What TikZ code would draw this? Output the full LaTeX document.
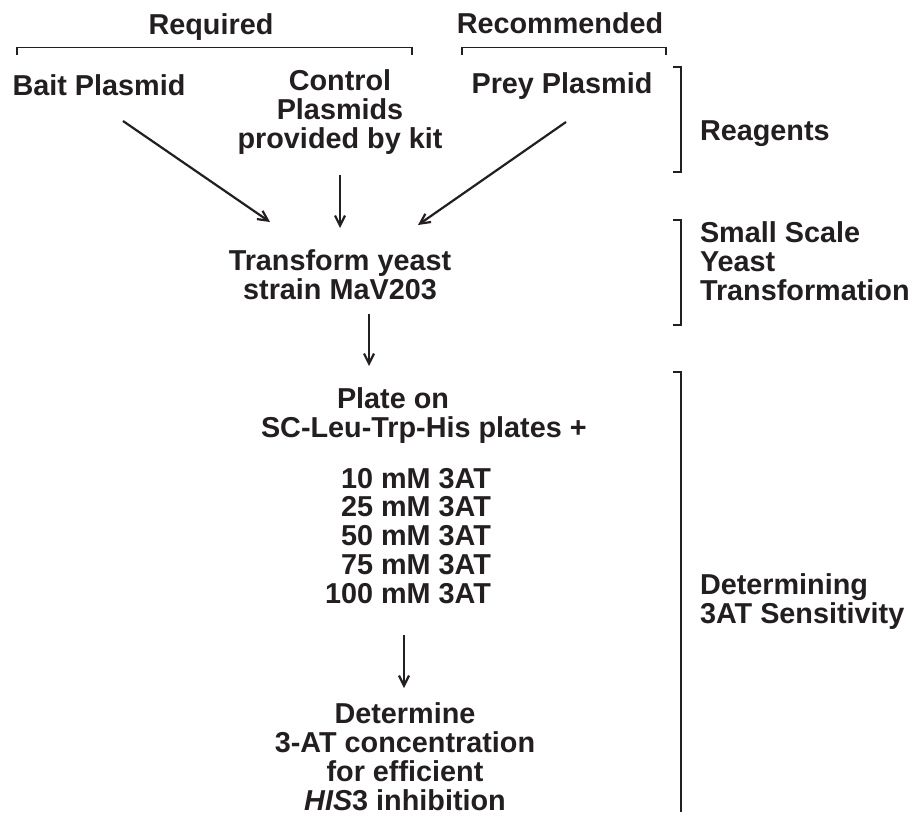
\documentclass[tikz,border=0pt]{standalone}
\usepackage{fontspec}
\setmainfont{Liberation Sans}
\usetikzlibrary{arrows.meta}
\definecolor{ink}{RGB}{35,31,32}
\begin{document}
\begin{tikzpicture}[x=1pt, y=-1pt,
	txt/.style={font=\fontsize{28.8}{28.7}\selectfont\bfseries, text=ink, inner sep=0pt, outer sep=0pt},
	bracket/.style={draw=ink, line width=1.8pt},
	arrow/.style={draw=ink, line width=2.2pt, -{Straight Barb[length=10pt, width=10pt]}}]
	\useasboundingbox (0,0) rectangle (912,817);
	% headers and brackets on top
	\node[txt, anchor=base] (req) at (211,34) {Required};
	\node[txt, anchor=base] (rec) at (560,33) {Recommended};
	\draw[bracket] (17,55)--(17,47.5)--(412,47.5)--(412,55);
	\draw[bracket] (462,55)--(462,47.5)--(666,47.5)--(666,55);
	% plasmids (multi-line nodes sit on their last baseline)
	\node[txt, anchor=base] (bait) at (99,95) {Bait Plasmid};
	\node[txt, anchor=base, align=center] (ctrl) at (340,148) {Control\\Plasmids\\provided by kit};
	\node[txt, anchor=base] (prey) at (562,93) {Prey Plasmid};
	% steps
	\node[txt, anchor=base, align=center] (yeast) at (340,299) {Transform yeast\\strain MaV203};
	\node[txt, anchor=base west, align=left] (plate) at (261,437) {\hspace*{76pt}Plate on\\SC-Leu-Trp-His plates +};
	\node[txt, anchor=base east, align=right] (conc) at (491,603) {10 mM 3AT\\25 mM 3AT\\50 mM 3AT\\75 mM 3AT\\100 mM 3AT};
	\node[txt, anchor=base, align=center] (det) at (405,810) {Determine\\3-AT concentration\\for efficient\\\textit{HIS}3 inhibition};
	% stages on the right
	\node[txt, anchor=base west] (reag) at (700,140) {Reagents};
	\node[txt, anchor=base west, align=left] (small) at (700,300) {Small Scale\\Yeast\\Transformation};
	\node[txt, anchor=base west, align=left] (sens) at (700,623) {Determining\\3AT Sensitivity};
	\draw[bracket] (673,67)--(681,67)--(681,172)--(673,172);
	\draw[bracket] (673,220)--(681,220)--(681,325)--(673,325);
	\draw[bracket] (673,372)--(681,372)--(681,812);
	% arrows
	\coordinate (bait-out) at (123,121);
	\coordinate (prey-out) at (566,122);
	\coordinate (ctrl-out) at (340,175);
	\coordinate (yeast-l) at (270,222);
	\coordinate (yeast-r) at (418,225);
	\coordinate (yeast-t) at (340,228);
	\coordinate (yeast-out) at (369,314);
	\coordinate (plate-in) at (369,366);
	\coordinate (conc-out) at (404,635);
	\coordinate (det-in) at (404,688);
	\draw[arrow] (bait-out)--(yeast-l);
	\draw[arrow] (ctrl-out)--(yeast-t);
	\draw[arrow] (prey-out)--(yeast-r);
	\draw[arrow] (yeast-out)--(plate-in);
	\draw[arrow] (conc-out)--(det-in);
\end{tikzpicture}
\end{document}
